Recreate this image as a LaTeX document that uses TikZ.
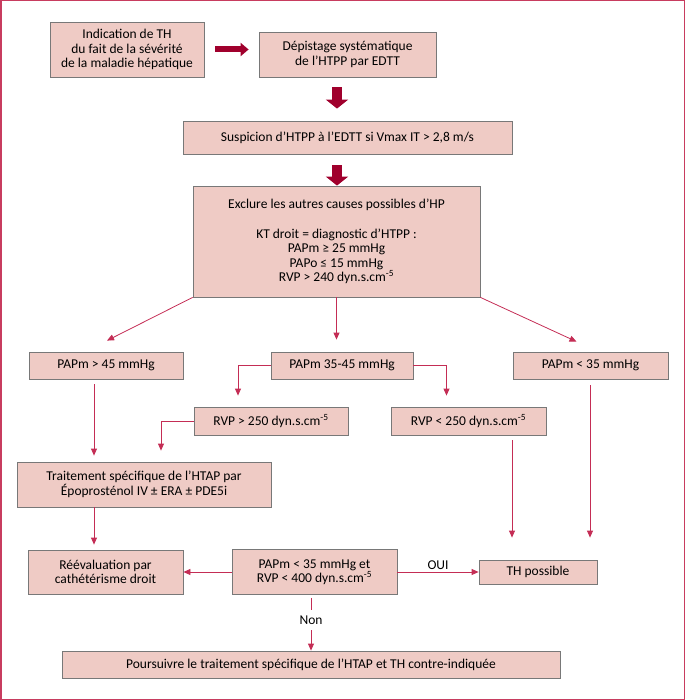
\documentclass[tikz,border=0pt]{standalone}
\usepackage{fontspec}
\setmainfont{Carlito}
\usetikzlibrary{arrows.meta,calc}
\definecolor{boxfill}{RGB}{239,203,197}
\definecolor{boxline}{RGB}{120,120,120}
\definecolor{linkred}{RGB}{196,45,85}
\definecolor{darkred}{RGB}{160,0,45}
\definecolor{framered}{RGB}{200,60,95}

\begin{document}
\begin{tikzpicture}[x=1pt, y=-1pt, font=\fontsize{13.5}{14.5}\selectfont]
        \tikzstyle{box} = [draw=boxline, fill=boxfill, line width=0.8pt, align=center, inner sep=0pt]
        \tikzstyle{link} = [-{Triangle[length=7pt,width=6pt]}, color=linkred, line width=0.8pt]
        \tikzstyle{bigh} = [-{Triangle[length=8pt,width=13pt]}, color=darkred, line width=6pt]
        \tikzstyle{bigv} = [-{Triangle[length=9pt,width=22pt]}, color=darkred, line width=10pt]
        \useasboundingbox (0,0) rectangle (685,700);
        \draw[framered, line width=1.5pt] (0.75,0.75) rectangle (684.25,699.25);
        % columns of the long connectors
        \coordinate (colL) at (94,0);
        \coordinate (colV) at (337,0);
        \coordinate (colN) at (311,0);
        \coordinate (colA) at (512,0);
        \coordinate (colB) at (590,0);
        % boxes
        \node[box, minimum width=154pt, minimum height=55pt] (ind) at (127,49.5) {Indication de TH\\du fait de la sévérité\\de la maladie hépatique};
        \node[box, minimum width=177pt, minimum height=45pt] (dep) at (347.5,54.5) {Dépistage systématique\\de l’HTPP par EDTT};
        \node[box, minimum width=329pt, minimum height=33pt] (susp) at (347.5,137.5) {Suspicion d’HTPP à l’EDTT si Vmax IT > 2,8 m/s};
        \node[box, minimum width=287pt, minimum height=111pt] (excl) at (336.5,241.5) {Exclure les autres causes possibles d’HP\\[15pt]KT droit = diagnostic d’HTPP :\\PAPm ≥ 25 mmHg\\PAPo ≤ 15 mmHg\\RVP > 240 dyn.s.cm\textsuperscript{-5}};
        \node[box, minimum width=154pt, minimum height=27pt] (p45) at (106,365.5) {PAPm > 45 mmHg};
        \node[box, minimum width=142pt, minimum height=27pt] (pmid) at (342,365.5) {PAPm 35-45 mmHg};
        \node[box, minimum width=155pt, minimum height=27pt] (p35) at (590.5,365.5) {PAPm < 35 mmHg};
        \node[box, minimum width=154pt, minimum height=28pt] (rvphi) at (271,421) {RVP > 250 dyn.s.cm\textsuperscript{-5}};
        \node[box, minimum width=155pt, minimum height=28pt] (rvplo) at (468.5,421) {RVP < 250 dyn.s.cm\textsuperscript{-5}};
        \node[box, minimum width=254pt, minimum height=45pt] (trait) at (144,484.5) {Traitement spécifique de l’HTAP par\\Époprosténol IV ± ERA ± PDE5i};
        \node[box, minimum width=155pt, minimum height=44pt] (reev) at (105.5,572) {Réévaluation par\\cathétérisme droit};
        \node[box, minimum width=165pt, minimum height=45pt] (crit) at (314.5,572) {PAPm < 35 mmHg et\\RVP < 400 dyn.s.cm\textsuperscript{-5}};
        \node[box, minimum width=118pt, minimum height=24pt] (thp) at (538,572) {TH possible};
        \node[box, minimum width=498pt, minimum height=27pt] (pours) at (311,664.5) {Poursuivre le traitement spécifique de l’HTAP et TH contre-indiquée};
        % big arrows
        \draw[bigh] ($(ind.east)+(11,0)$) -- ($(dep.west |- ind.east)+(-10,0)$);
        \draw[bigv] ($(colV |- dep.south)+(0,10)$) -- ($(colV |- susp.north)+(0,-12)$);
        \draw[bigv] ($(colV |- susp.south)+(0,11)$) -- (colV |- excl.north);
        % thin arrows
        \draw[link] (excl.south west) -- ($(p45.north)+(1,-11)$);
        \draw[link] (excl.south) -- ($(pmid.north -| excl.south)+(0,-12)$);
        \draw[link] (excl.south east) -- ($(p35.north)+(-14,-10)$);
        \draw[link] (pmid.west) -| ($(rvphi.north)+(-33,-11)$);
        \draw[link] (pmid.east) -| ($(rvplo.north)+(-22,-11)$);
        \draw[link] (rvphi.west) -| ($(trait.north)+(17,-11)$);
        \draw[link] ($(colL |- p45.south)+(0,5)$) -- ($(colL |- trait.north)+(0,-6)$);
        \draw[link] (colL |- trait.south) -- ($(colL |- reev.north)+(0,-5)$);
        \draw[link] ($(colA |- rvplo.south)+(0,5)$) -- ($(colA |- thp.north)+(0,-22)$);
        \draw[link] ($(colB |- p35.south)+(0,6)$) -- ($(colB |- thp.north)+(0,-22)$);
        \draw[link] (crit) -- (reev);
        \draw[link] (crit) -- node[above, inner sep=2pt, text=black] {OUI} (thp);
        \draw[link] ($(colN |- crit.south)+(0,3)$) -- node[pos=0.42, fill=white, inner ysep=6pt, text=black] {Non} (colN |- pours.north);
\end{tikzpicture}
\end{document}
